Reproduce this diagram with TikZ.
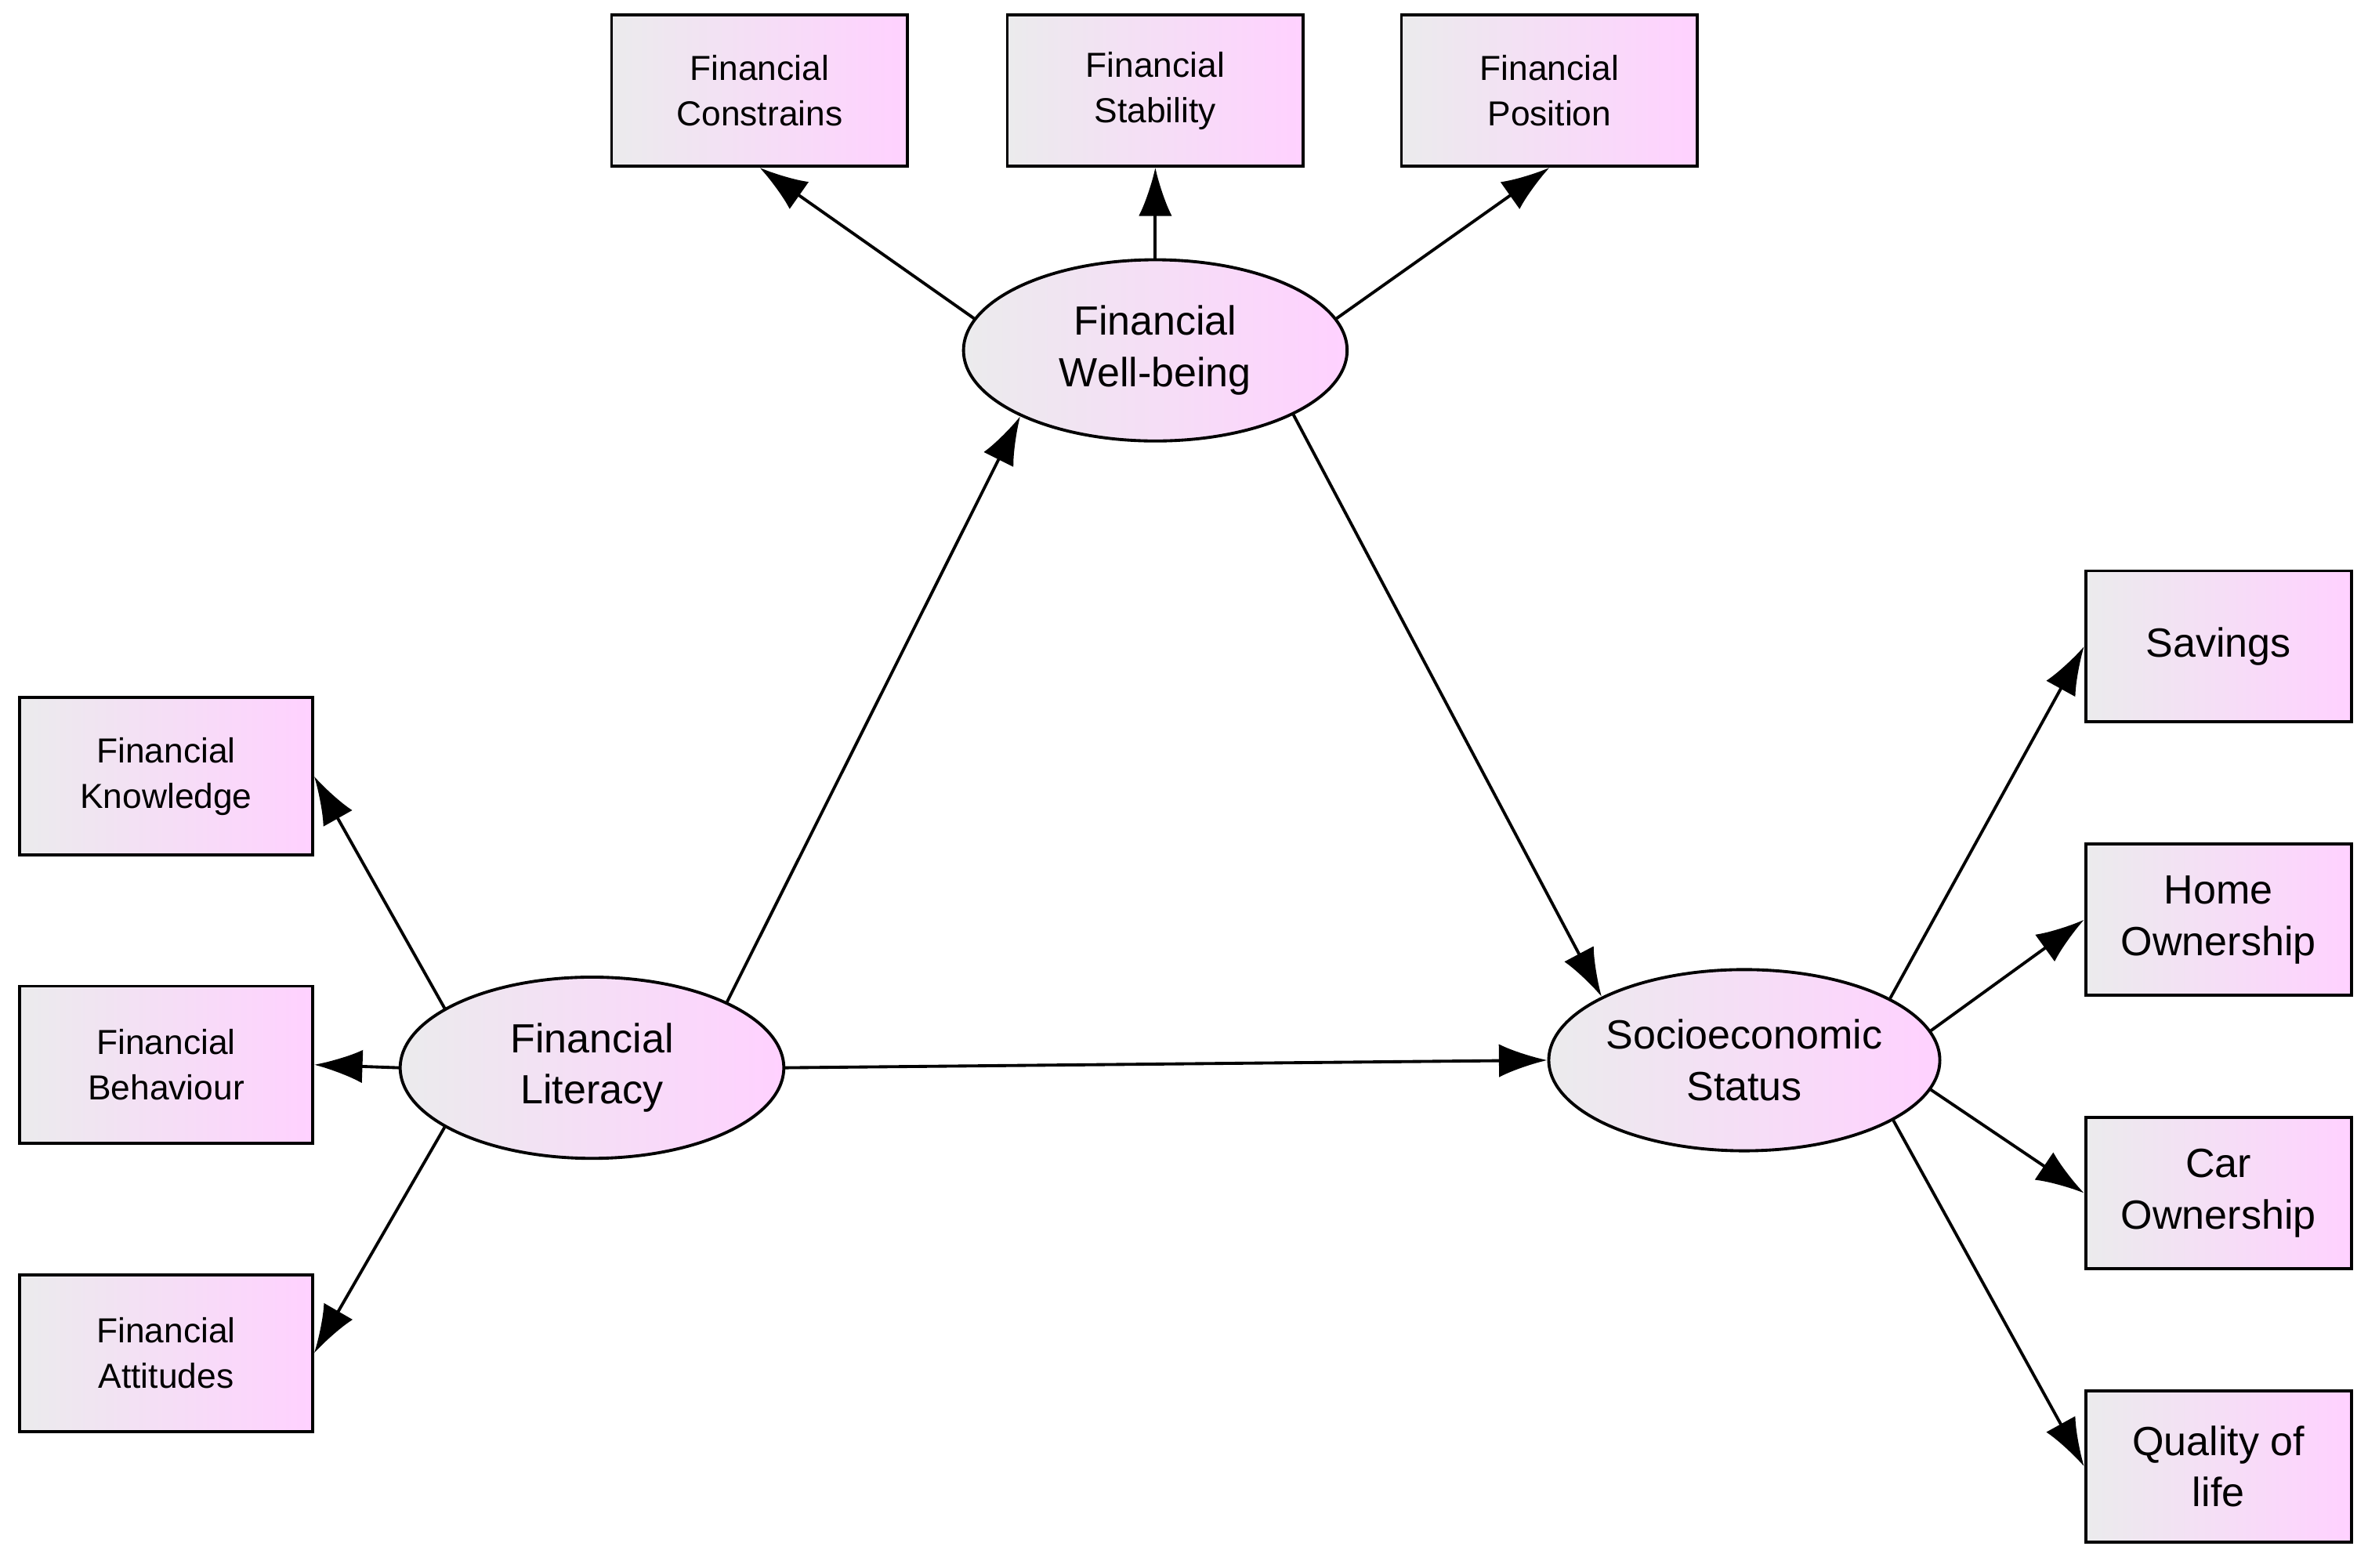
\documentclass[tikz,border=0pt]{standalone}
\usepackage{fontspec}
\setmainfont{Liberation Sans}
\usetikzlibrary{arrows.meta,shapes.geometric}
\begin{document}
\begin{tikzpicture}[x=0.5pt,y=-0.5pt,
  box/.style={draw,line width=1pt,left color=blue!4!gray!15,right color=magenta!18,minimum width=#1,minimum height=50pt,inner sep=1pt,align=center,font=\fontsize{11.5}{15}\selectfont},
  rbox/.style={draw,line width=1pt,left color=blue!4!gray!15,right color=magenta!18,minimum width=88pt,minimum height=50pt,inner sep=1pt,align=center,font=\fontsize{13.5}{17}\selectfont},
  lat/.style={draw,ellipse,line width=1pt,left color=blue!4!gray!15,right color=magenta!18,minimum width=127pt,minimum height=60pt,inner sep=0pt,align=center,font=\fontsize{13.5}{17}\selectfont},
  arr/.style={line width=1pt,-{Latex[length=16pt,width=11pt]}}]
\useasboundingbox (0,0) rectangle (1568,1038);
\node[box=98pt] (fc) at (503,60) {Financial\\Constrains};
\node[box=98pt] (fs) at (765,60) {Financial\\Stability};
\node[box=98pt] (fp) at (1026,60) {Financial\\Position};
\node[lat] (wb) at (765,232) {Financial\\Well-being};
\node[lat] (lit) at (392,707) {Financial\\Literacy};
\node[lat] (ses) at (1155,702) {Socioeconomic\\Status};
\node[box=97pt,minimum height=52pt] (fk) at (110,514) {Financial\\Knowledge};
\node[box=97pt,minimum height=52pt] (fb) at (110,705) {Financial\\Behaviour};
\node[box=97pt,minimum height=52pt] (fa) at (110,896) {Financial\\Attitudes};
\node[rbox] (sv) at (1469,428) {Savings};
\node[rbox] (ho) at (1469,609) {Home\\Ownership};
\node[rbox] (co) at (1469,790) {Car\\Ownership};
\node[rbox] (ql) at (1469,971) {Quality of\\life};
\draw[arr] (lit.158) -- (fk.east);
\draw[arr] (lit.west) -- (fb.east);
\draw[arr] (lit.-158) -- (fa.east);
\draw[arr] (lit.26) -- (wb.-154);
\draw[arr] (lit.east) -- (ses.west);
\draw[arr] (wb.-25) -- (ses.156);
\draw[arr] (wb.170) -- (fc.south);
\draw[arr] (wb.north) -- (fs.south);
\draw[arr] (wb.10) -- (fp.south);
\draw[arr] (ses.23) -- (sv.west);
\draw[arr] (ses.9) -- (ho.west);
\draw[arr] (ses.-9) -- (co.west);
\draw[arr] (ses.-22) -- (ql.west);
\end{tikzpicture}
\end{document}
